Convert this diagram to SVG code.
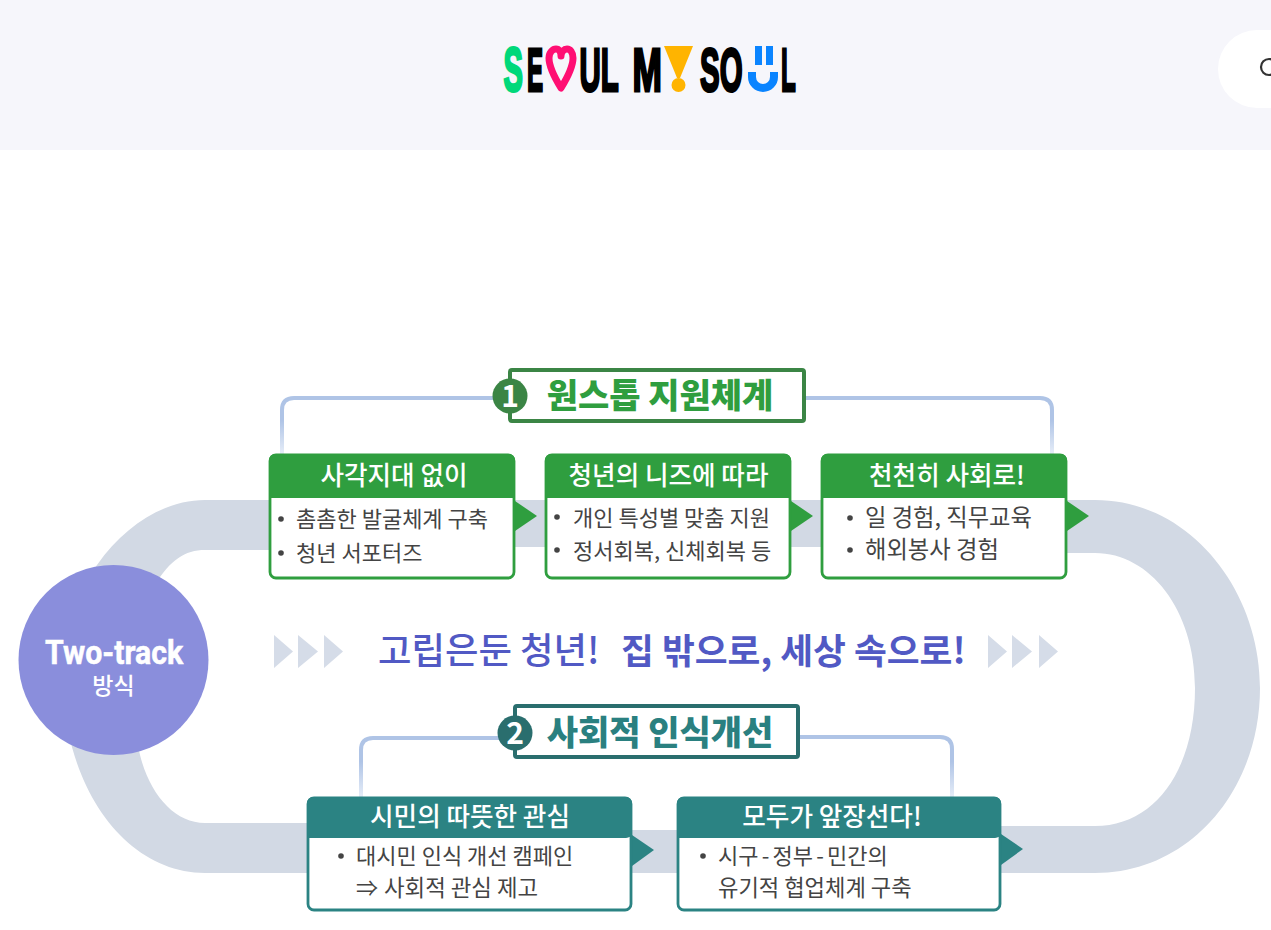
<svg xmlns="http://www.w3.org/2000/svg" width="1271" height="930" viewBox="0 0 1271 930">
<style>
text{font-family:"Noto Sans CJK KR","Noto Sans",sans-serif}
.logo{font-family:"Liberation Sans",sans-serif;font-weight:700;font-size:62px;stroke-width:3}
.k{fill:#000;stroke:#000}
.hd{fill:#fff;font-size:25.600px;font-weight:500;text-anchor:middle}
.bd{fill:#444;font-size:22px}
.dot{fill:#444}
.gb{fill:#fff;stroke:#2f9e3f;stroke-width:2.800}
.gh{fill:#2f9e3f}
.tb{fill:#fff;stroke:#2b8383;stroke-width:2.800}
.th{fill:#2b8383}
.chev{fill:#d5dce8}
.link{fill:none;stroke-width:4;stroke-linecap:butt}
</style>
<defs>
<linearGradient id="fadeA" gradientUnits="userSpaceOnUse" x1="0" y1="398" x2="0" y2="454"><stop offset="0" stop-color="#afc4e6"/><stop offset=".4" stop-color="#afc4e6"/><stop offset="1" stop-color="#e6edf8"/></linearGradient>
<linearGradient id="fadeB" gradientUnits="userSpaceOnUse" x1="0" y1="738" x2="0" y2="797"><stop offset="0" stop-color="#afc4e6"/><stop offset=".4" stop-color="#afc4e6"/><stop offset="1" stop-color="#e6edf8"/></linearGradient>
</defs>
<rect width="1271" height="930" fill="#fff"/>
<g id="header">
<rect width="1271" height="150" fill="#f6f6fb"/>
<rect x="1218" y="30" width="120" height="78" rx="39" fill="#fff"/>
<circle cx="1269" cy="67" r="8" fill="none" stroke="#333" stroke-width="2.200"/>
</g>
<g id="logo">
<text class="logo" transform="translate(503.500 90.500) scale(.47 1)" fill="#00d87a" stroke="#00d87a">S</text>
<text class="logo k" transform="translate(527 90.500) scale(.39 1)">E</text>
<path d="M561 88C553 75 549 66 549 58C549 52 553 49 556 49C559 49 561 52 561 56C561 52 564 49 567 49C570 49 573 52 573 58C573 66 569 75 561 88Z" fill="#f6f6fb" stroke="#ff0f73" stroke-width="7" stroke-linejoin="round"/>
<text class="logo k" transform="translate(579.500 90.500) scale(.475 1)">UL</text>
<text class="logo k" transform="translate(632.500 90.500) scale(.57 1)">M</text>
<path d="M664 46H693L680 78H677Z" fill="#ffb400"/><circle cx="678.500" cy="85" r="7" fill="#ffb400"/>
<text class="logo k" transform="translate(700 90.500) scale(.475 1)">SO</text>
<path d="M752 72V77A11 11 0 0 0 774 77V72" fill="none" stroke="#0a84ff" stroke-width="8"/>
<path d="M755 46h7v19h-7zM766 46h7v19h-7z" fill="#0a84ff"/>
<text class="logo k" transform="translate(781 90.500) scale(.39 1)">L</text>
</g>
<g id="track">
<path fill="#d2d9e4" fill-rule="evenodd" d="M205 500H1095C1190 500 1260 590 1260 688C1260 790 1190 873 1095 873H205C140 873 85 815 68 730C60 660 70 600 97 565C125 525 165 500 205 500ZM205 550C185 550 170 560 155 585C130 640 128 700 140 755C150 795 175 823 205 823H400V830H850V826H1095C1155 826 1195 770 1195 688C1195 610 1150 553 1095 553H900V547H400V550Z"/>
</g>
<g id="connectors">
<path class="link" stroke="url(#fadeA)" d="M282 454V410Q282 398 294 398H509"/>
<path class="link" stroke="url(#fadeA)" d="M805 398H1040Q1052 398 1052 410V454"/>
<path class="link" stroke="url(#fadeB)" d="M361 797V750Q361 738 373 738H515"/>
<path class="link" stroke="url(#fadeB)" d="M799 737H940Q952 737 952 749V797"/>
<path class="gh" d="M515 501L537 516L515 531Z"/>
<path class="gh" d="M791 501L813 516L791 531Z"/>
<path class="gh" d="M1067 501L1089 516L1067 531Z"/>
<path class="th" d="M632 835L654 850L632 866Z"/>
<path class="th" d="M1001 834L1023 849L1001 865Z"/>
</g>
<g id="two-track">
<circle cx="113.500" cy="660" r="95" fill="#8a8edc"/>
<text transform="translate(114 664) scale(.89 1)" font-size="34" font-weight="700" fill="#fff" stroke="#fff" stroke-width=".5" text-anchor="middle" style="font-family:Roboto,sans-serif">Two-track</text>
<text x="113.500" y="694" font-size="23" font-weight="500" fill="#fff" text-anchor="middle">방식</text>
</g>
<g id="slogan">
<path class="chev" d="M274 635L293 651.500L274 668ZM298 635L318 651.500L298 668ZM324 635L343 651.500L324 668Z"/>
<text x="378" y="664" font-size="36.400" font-weight="500" fill="#5159c4">고립은둔 청년!</text>
<text x="621" y="664" font-size="35.700" font-weight="700" fill="#5159c4">집 밖으로, 세상 속으로!</text>
<path class="chev" d="M988 635L1007 651.500L988 668ZM1012 635L1032 651.500L1012 668ZM1039 635L1058 651.500L1039 668Z"/>
</g>
<g id="title-1">
<rect x="510" y="370" width="294" height="51" rx="2" fill="#fff" stroke="#3b8545" stroke-width="4"/>
<circle cx="510" cy="396" r="17.500" fill="#3b8545"/>
<text x="510" y="407" font-size="30" font-weight="700" fill="#fff" text-anchor="middle">1</text>
<text x="660" y="408" font-size="34" font-weight="900" fill="#2f9e3f" text-anchor="middle">원스톱 지원체계</text>
</g>
<g id="box-1">
<rect class="gb" x="270" y="455" width="244" height="123" rx="6"/>
<path class="gh" d="M269 498V460a6 6 0 0 1 6-6H509a6 6 0 0 1 6 6V498Z"/>
<text class="hd" x="394" y="485">사각지대 없이</text>
<circle class="dot" cx="281" cy="519" r="2.800"/><text class="bd" x="296" y="527">촘촘한 발굴체계 구축</text>
<circle class="dot" cx="281" cy="553" r="2.800"/><text class="bd" x="296" y="561">청년 서포터즈</text>
</g>
<g id="box-2">
<rect class="gb" x="546" y="455" width="244" height="123" rx="6"/>
<path class="gh" d="M545 498V460a6 6 0 0 1 6-6H785a6 6 0 0 1 6 6V498Z"/>
<text class="hd" x="668.500" y="485">청년의 니즈에 따라</text>
<circle class="dot" cx="557" cy="517" r="2.800"/><text class="bd" x="573" y="526">개인 특성별 맞춤 지원</text>
<circle class="dot" cx="557" cy="550" r="2.800"/><text class="bd" x="573" y="559">정서회복, 신체회복 등</text>
</g>
<g id="box-3">
<rect class="gb" x="822" y="455" width="244" height="123" rx="6"/>
<path class="gh" d="M821 498V460a6 6 0 0 1 6-6H1061a6 6 0 0 1 6 6V498Z"/>
<text class="hd" x="947" y="485">천천히 사회로!</text>
<circle class="dot" cx="850" cy="518" r="2.800"/><text class="bd" x="865" y="526" style="font-size:23.300px">일 경험, 직무교육</text>
<circle class="dot" cx="850" cy="550" r="2.800"/><text class="bd" x="865" y="558" style="font-size:23.300px">해외봉사 경험</text>
</g>
<g id="title-2">
<rect x="515" y="706" width="283" height="51" rx="2" fill="#fff" stroke="#2a6e6e" stroke-width="4"/>
<circle cx="515" cy="733" r="17.500" fill="#2a6e6e"/>
<text x="515" y="744" font-size="30" font-weight="700" fill="#fff" text-anchor="middle">2</text>
<text x="660" y="745" font-size="34" font-weight="900" fill="#2a8080" text-anchor="middle">사회적 인식개선</text>
</g>
<g id="box-4">
<rect class="tb" x="308" y="798" width="323" height="112" rx="6"/>
<path class="th" d="M307 838V803a6 6 0 0 1 6-6H626a6 6 0 0 1 6 6V832a6 6 0 0 1-6 6Z"/>
<text class="hd" x="470" y="826">시민의 따뜻한 관심</text>
<circle class="dot" cx="341" cy="856" r="2.800"/><text class="bd" x="356" y="864">대시민 인식 개선 캠페인</text>
<text class="bd" x="356" y="896">⇒ <tspan dx="1" style="font-size:22.400px">사회적 관심 제고</tspan></text>
</g>
<g id="box-5">
<rect class="tb" x="678" y="798" width="322" height="112" rx="6"/>
<path class="th" d="M677 838V803a6 6 0 0 1 6-6H995a6 6 0 0 1 6 6V832a6 6 0 0 1-6 6Z"/>
<text class="hd" x="832" y="826">모두가 앞장선다!</text>
<circle class="dot" cx="703" cy="856" r="2.800"/><text class="bd" x="718" y="864">시구<tspan dx="3.200">-</tspan><tspan dx="3.200">정부</tspan><tspan dx="3.200">-</tspan><tspan dx="3.200">민간의</tspan></text>
<text class="bd" x="718" y="896" style="font-size:22.200px">유기적 협업체계 구축</text>
</g>
</svg>
